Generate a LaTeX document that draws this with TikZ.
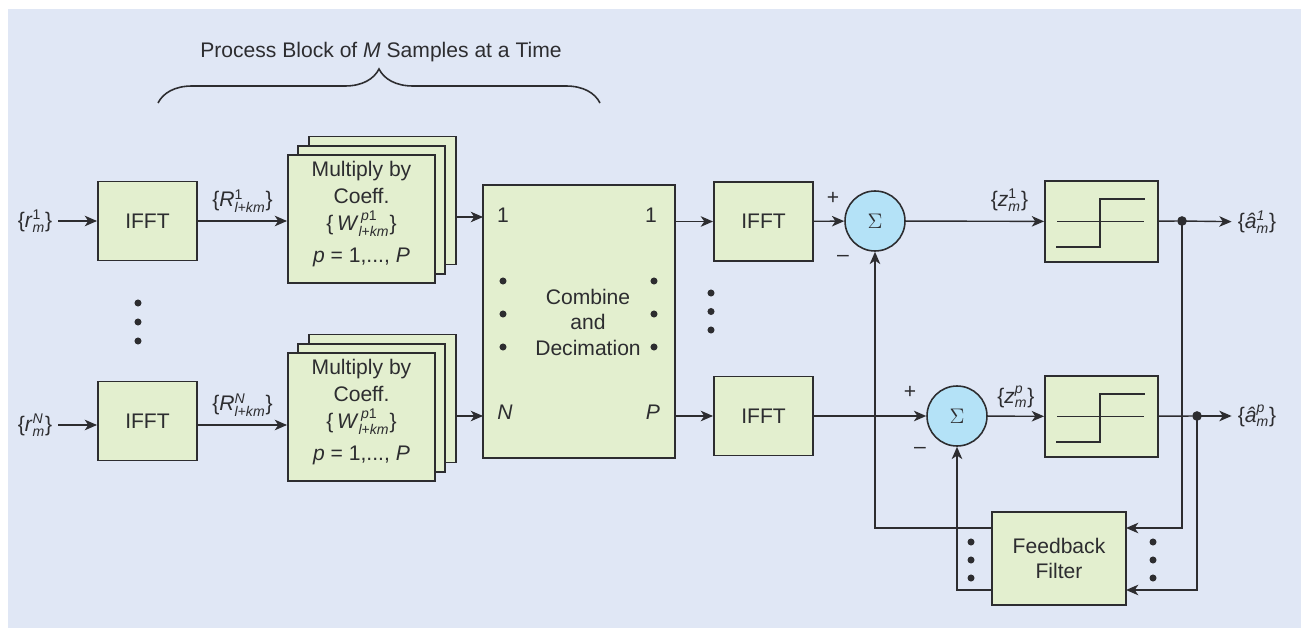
\documentclass[tikz,border=0pt]{standalone}
\usepackage{amsmath}
\usepackage{fontspec}
\setmainfont{Liberation Sans}
\usepackage{tikz}
\usepackage{xcolor}
\usetikzlibrary{positioning, arrows.meta, decorations.pathreplacing}

\definecolor{bgblue}{RGB}{224,231,245}
\definecolor{boxgreen}{RGB}{227,239,207}
\definecolor{sumblue}{RGB}{180,226,247}
\definecolor{ink}{RGB}{45,45,48}

\begin{document}
\begin{tikzpicture}[x=0.02cm, y=-0.02cm, font=\fontsize{12}{14.5}\selectfont, color=ink,
    arr/.style={-{Stealth[length=7pt, width=6pt, inset=2pt]}, line width=0.8pt},
    blk/.style={draw, line width=1.1pt, fill=boxgreen, inner sep=0pt, align=center},
    ifftbox/.style={blk, minimum width=1.98cm, minimum height=1.58cm},
    mulbox/.style={blk, minimum width=2.94cm, minimum height=2.56cm},
    decbox/.style={blk, minimum width=2.26cm, minimum height=1.62cm},
    sumnode/.style={draw, circle, fill=sumblue, line width=0.9pt, minimum size=1.2cm, inner sep=0pt},
    dotc/.style={circle, fill, inner sep=0pt, minimum size=4pt},
    jdot/.style={circle, fill, inner sep=0pt, minimum size=5.5pt}]
    \useasboundingbox (0,0) rectangle (1301,628);
    \fill[bgblue] (8,9) rectangle (1301,628);

    % block brace
    \draw[line width=0.9pt, decorate, decoration={brace, amplitude=0.68cm}] (158,103) -- (600,103);
    \node (title) at (381,52) {Process Block of \textit{M} Samples at a Time};

    % input IFFTs
    \node (rin1) at (35,221) {\{\textit{r}$^{\text{1}}_{\textit{m}}$\}};
    \node (rinN) at (35,425) {\{\textit{r}$^{\textit{N}}_{\textit{m}}$\}};
    \node [ifftbox] (ifft1) at (147.5,221) {IFFT};
    \node [ifftbox] (ifftN) at (147.5,421) {IFFT};
    \draw[arr] (rin1) -- (ifft1);
    \draw[arr] (rinN.east) -- (rinN.east -| ifftN.west);

    % coefficient stacks
    \foreach \r/\y in {1/219, N/417} {
        \node [mulbox] (mul\r c) at (382.5,\y-18.5) {};
        \node [mulbox] (mul\r b) at (371.5,\y-9) {};
        \node [mulbox] (mul\r) at (361.5,\y) {};
        \node [align=center, font=\fontsize{12}{15.3}\selectfont] (mul\r t) at (361.5,\y-5)
            {Multiply by\\Coeff.\\\{\,\textit{W}$^{\,\textit{p}\text{1}}_{\textit{l}\text{+}\textit{km}}$\}\\[3pt]\textit{p} = 1,..., \textit{P}};
    }
    \draw[arr] (ifft1.east) -- (ifft1.east -| mul1.west) node[midway, above=1pt]
        {\{\textit{R}$^{\text{1}}_{\textit{l}\text{+}\textit{km}}$\}};
    \draw[arr] (ifftN.east |- 0,425) -- (mulN.west |- 0,425) node[midway, above=1pt]
        {\{\textit{R}$^{\textit{N}}_{\textit{l}\text{+}\textit{km}}$\}};
    \foreach \y in {303, 322, 341}
        \node [dotc] at (138,\y) {};

    % combine and decimation
    \node [blk, minimum width=3.84cm, minimum height=5.46cm] (comb) at (579,321.5) {};
    \node [align=center] (combt) at (588,322) {Combine\\and\\Decimation};
    \coordinate (in1) at (483,217);
    \coordinate (inN) at (483,416);
    \draw[arr] (mul1c.east |- in1) -- (in1);
    \draw[arr] (mulNc.east |- inN) -- (inN);
    \node (c1l) at (503,215) {1};
    \node (c1r) at (651,215) {1};
    \node (cNl) at (505,412) {\textit{N}};
    \node (cPr) at (653,412) {\textit{P}};
    \foreach \y in {281, 314, 347} {
        \node [dotc] at (503,\y) {};
        \node [dotc] at (654,\y) {};
    }
    \foreach \y in {293, 311.5, 330}
        \node [dotc] at (711,\y) {};

    % output IFFTs and sums
    \node [ifftbox] (ifftR1) at (763.5,221.5) {IFFT};
    \node [ifftbox] (ifftRP) at (763.5,416) {IFFT};
    \draw[arr] (comb.east |- ifftR1) -- (ifftR1.west);
    \draw[arr] (comb.east |- ifftRP) -- (ifftRP.west);
    \node [sumnode] (sum1) at (875,221) {\large$\Sigma$};
    \node [sumnode] (sumP) at (957,416) {\large$\Sigma$};
    \draw[arr] (ifftR1) -- (sum1);
    \draw[arr] (ifftRP) -- (sumP);
    \node (plus1) at (833,198) {+};
    \node (minus1) at (843,258) {--};
    \node (plusP) at (910,392) {+};
    \node (minusP) at (920,450) {--};

    % decision devices
    \node [decbox] (dec1) at (1101.5,221.5) {};
    \node [decbox] (decP) at (1101.5,416.5) {};
    \foreach \d/\w in {dec1/0.8pt, decP/1.3pt} {
        \draw[line width=0.8pt, shift={(\d.center)}] (-44.5,0) -- (42.5,0);
        \draw[line width=\w, shift={(\d.center)}] (-45.5,25.5) -- (-1.5,25.5) -- (-1.5,-22.5) -- (43.5,-22.5);
    }
    \draw[arr] (sum1) -- (dec1) node[pos=0.75, above=2pt] {\{\textit{z}$^{\text{1}}_{\textit{m}}$\}};
    \draw[arr] (sumP) -- (decP) node[midway, above=1pt] {\{\textit{z}$^{\textit{p}}_{\textit{m}}$\}};

    % outputs
    \node [jdot] (dot1) at (1182,221) {};
    \node [jdot] (dotP) at (1197,416) {};
    \node (aout1) at (1257,222) {\{\textit{â}$^{\textit{1}}_{\textit{m}}$\}};
    \node (aoutP) at (1257,416) {\{\textit{â}$^{\textit{p}}_{\textit{m}}$\}};
    \draw[line width=0.8pt] (dec1) -- (dot1);
    \draw[line width=0.8pt] (decP) -- (dotP);
    \draw[arr] (dot1.center) -- (aout1);
    \draw[arr] (dotP.center) -- (aoutP);

    % feedback filter
    \node [blk, minimum width=2.68cm, minimum height=1.86cm] (fb) at (1059,558.5) {Feedback\\Filter};
    \coordinate (fbin1) at (1126,528);
    \coordinate (fbinP) at (1126,590);
    \coordinate (fbout1) at (992,528);
    \coordinate (fboutP) at (992,590);
    \draw[arr] (dot1.center) |- (fbin1);
    \draw[arr] (dotP.center) |- (fbinP);
    \draw[arr] (fbout1) -| (sum1.south);
    \draw[arr] (fboutP) -| (sumP.south);
    \foreach \y in {542, 560, 578} {
        \node [dotc] at (971,\y) {};
        \node [dotc] at (1153,\y) {};
    }
\end{tikzpicture}
\end{document}
